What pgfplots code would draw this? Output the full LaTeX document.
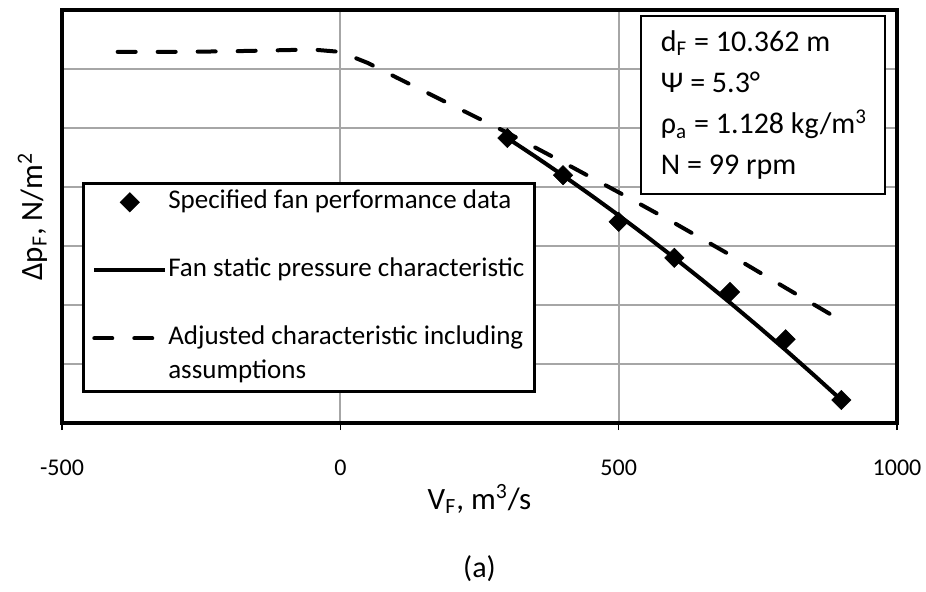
\documentclass[border=0pt]{standalone}
\usepackage{fontspec}
\setmainfont{Carlito}
\usepackage{pgfplots}
\pgfplotsset{compat=1.18}
\pgfplotsset{
  legmark/.style={legend image code/.code={\draw[##1] plot coordinates {(17.75pt,0pt)};}},
  legline/.style={legend image code/.code={\draw[##1] (0pt,0pt) -- (35.5pt,0pt);}},
}
\newcommand{\boxtext}{\begin{tabular}{@{}l@{}}d\textsubscript{F} = 10.362 m\\ Ψ = 5.3°\\ ρ\textsubscript{a} = 1.128 kg/m\textsuperscript{3}\\ N = 99 rpm\end{tabular}}
\begin{document}
\begin{tikzpicture}
\path[use as bounding box] (-31pt,-84pt) rectangle (432pt,211.5pt);
\begin{axis}[
  scale only axis, width=417.5pt, height=206.5pt,
  at={(0pt,0pt)}, anchor=south west,
  xmin=-500, xmax=1000, ymin=0, ymax=7,
  xtick={-500,0,500,1000}, xticklabels={-500,0,500,1000},
  ytick={0,1,2,3,4,5,6,7}, yticklabels={},
  grid=major, grid style={draw=black!35, line width=1pt},
  axis line style={line width=2pt},
  tick align=outside, xtick pos=bottom, ytick pos=left,
  major tick length=3.5pt,
  x tick style={black, line width=0.8pt},
  y tick style={draw=none},
  xticklabel style={font=\fontsize{12}{14}\selectfont, anchor=north, inner sep=0pt, yshift=-15pt},
  clip=false,
  legend style={at={(rel axis cs:0.024,0.5835)}, anchor=north west, draw=black, line width=1.25pt, fill=white,
    inner xsep=4.5pt, inner ysep=1pt, font=\fontsize{13.5}{15}\selectfont, row sep=0pt, column sep=0pt,
    nodes={inner xsep=0.5pt, inner ysep=0pt, text height=11.5pt, text depth=5.5pt}},
  legend cell align=left,
]
% adjusted characteristic (dashed)
\addplot[forget plot, black, line width=2pt, dash pattern=on 9pt off 11pt, line cap=round] coordinates {
(-400,6.29) (-300,6.29) (-200,6.30) (-100,6.32) (-50,6.33) (0,6.29) (50,6.10) (100,5.86) (200,5.39)
(300,4.92) (400,4.42) (500,3.91) (600,3.39) (700,2.85) (800,2.29) (890,1.79)};
% fan static pressure characteristic (solid)
\addplot[forget plot, black, line width=2pt] coordinates {
(300,4.83) (350,4.518) (400,4.196) (450,3.863) (500,3.52) (550,3.165) (600,2.80)
(650,2.425) (700,2.04) (750,1.643) (800,1.236) (850,0.818) (900,0.39)};
% specified data
\addplot[forget plot, only marks, mark=square*, mark size=3.4pt, mark options={rotate=45, fill=black, draw=black, line width=0.3pt}] coordinates {
(300,4.83) (400,4.20) (500,3.41) (600,2.80) (700,2.22) (800,1.42) (900,0.39)};

\addlegendimage{legmark, only marks, mark=square*, mark size=3.4pt, mark options={rotate=45, fill=black, draw=black, line width=0.3pt}}
\addlegendentry{Specified fan performance data}
\addlegendimage{empty legend}
\addlegendentry{}
\addlegendimage{legline, black, line width=2pt}
\addlegendentry{Fan static pressure characteristic}
\addlegendimage{empty legend}
\addlegendentry{}
\addlegendimage{legline, black, line width=2pt, dash pattern=on 9pt off 11pt, line cap=round}
\addlegendentry{Adjusted characteristic including}
\addlegendimage{empty legend}
\addlegendentry{assumptions}

\node[draw=black, line width=1pt, fill=white, anchor=north east, inner xsep=10pt, inner ysep=0pt,
  minimum height=89pt, font=\fontsize{15}{20.6}\selectfont]
  at (rel axis cs:0.9868,0.988)
  {\makebox[102pt][l]{\raisebox{-1pt}{\boxtext}}};

\node[font=\fontsize{15.5}{18}\selectfont] at ([yshift=-38pt]rel axis cs:0.5,0) {V\textsubscript{F}, m\textsuperscript{3}/s};
\node[rotate=90, font=\fontsize{15.5}{18}\selectfont] at ([xshift=-14.75pt]rel axis cs:0,0.5) {Δp\textsubscript{F}, N/m\textsuperscript{2}};
\node[font=\fontsize{15}{18}\selectfont] at ([yshift=-73pt]rel axis cs:0.5,0) {(a)};
\end{axis}
\end{tikzpicture}
\end{document}
